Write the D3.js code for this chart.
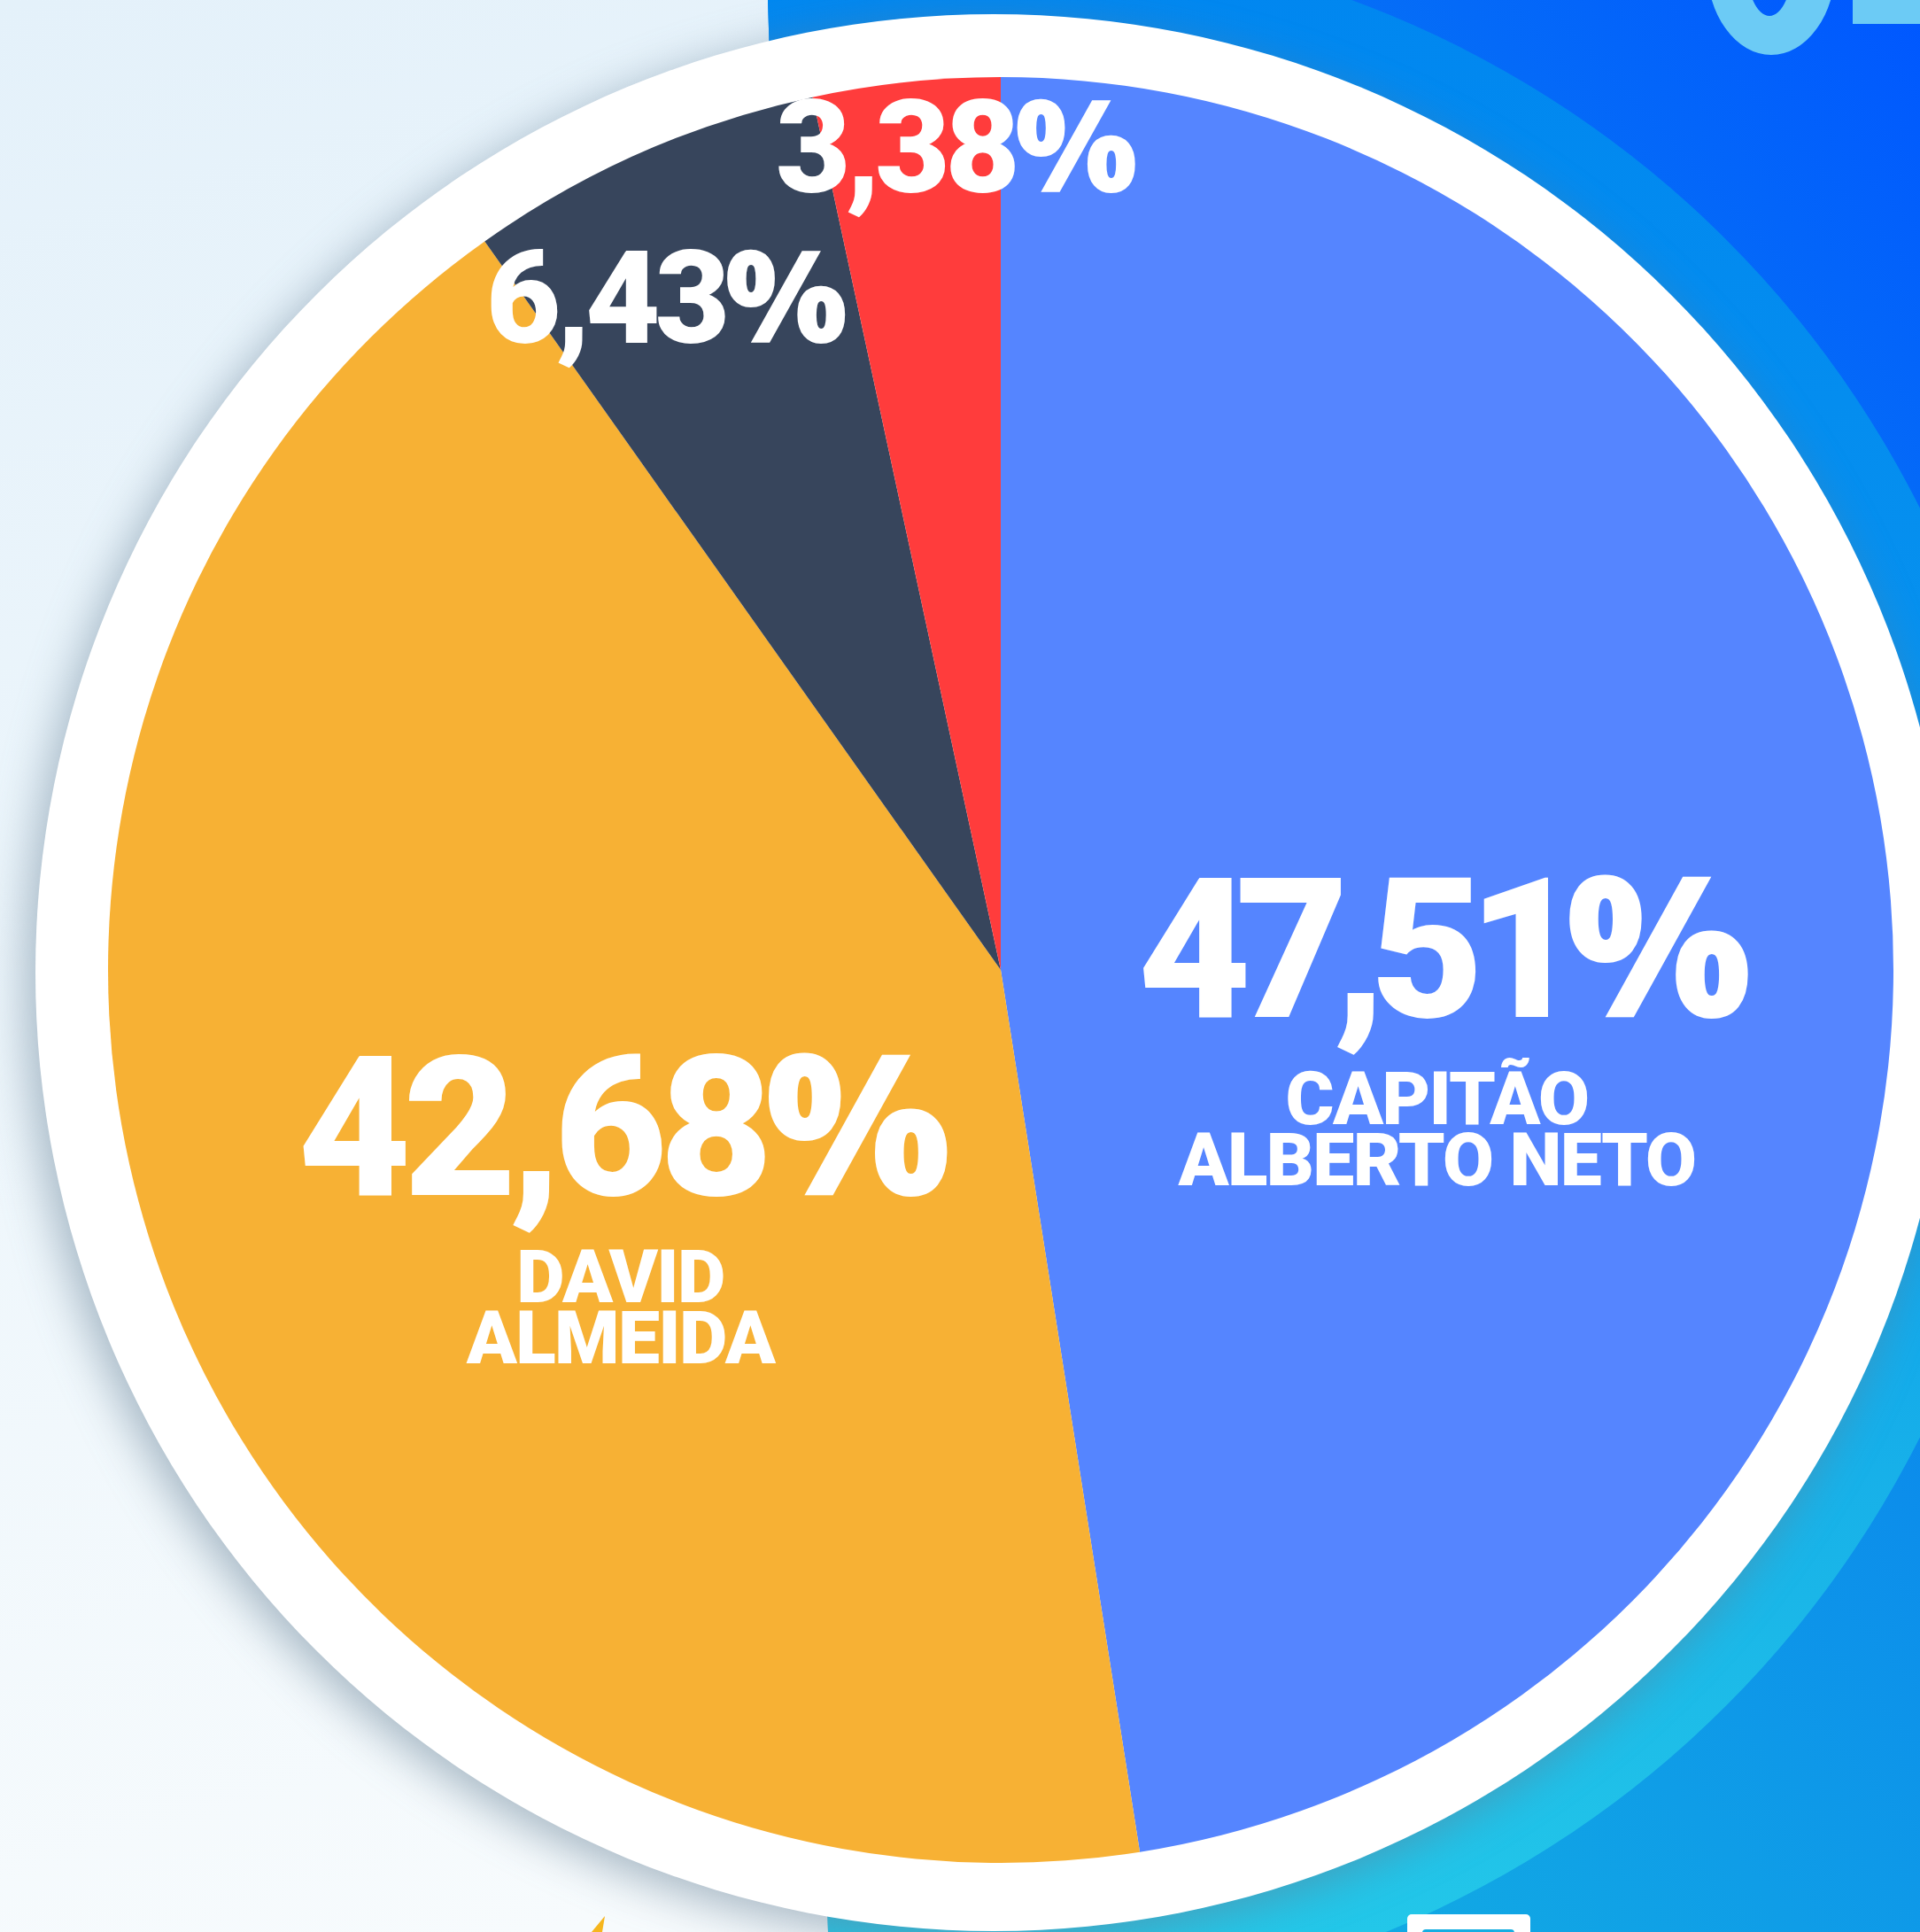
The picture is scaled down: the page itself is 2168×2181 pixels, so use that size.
<!DOCTYPE html>
<html>
<head>
<meta charset="utf-8">
<script src="https://cdn.jsdelivr.net/npm/d3@7"></script>
<style>
  html, body { margin: 0; padding: 0; background: #f4f9fc; }
  svg { display: block; }
</style>
</head>
<body>
<div id="chart"></div>
<script>
// ---- data ----
const shares = [47.51, 42.68, 6.43, 3.38];
const nameLines = [["CAPITÃO", "ALBERTO NETO"], ["DAVID", "ALMEIDA"], [], []];
const sliceColors = ["#5585ff", "#f7b134", "#37455c", "#ff3c3c"];

// ---- layout ----
const W = 2168, H = 2181;
const cx = 1130, cy = 1095, R = 1008;            // pie
const ringCx = 1122, ringCy = 1098, ringR = 1082; // white disc
const bandR = 1170;                               // light band behind the disc

// where each label sits: radius factor + small nudge (px)
const labelLayout = [
  { k: 0.49, dx: 0, dy: 13, size: 221, ls: -0.08, nameSize: 84 },
  { k: 0.46, dx: 0, dy: 1, size: 221, ls: -0.04, nameSize: 84 },
  { k: 0.843, dx: -38, dy: 18, size: 146, ls: -0.04 },
  { k: 0.924, dx: 46, dy: -4, size: 146, ls: -0.04 }
];

const pt = d3.formatLocale({ decimal: ",", thousands: ".", grouping: [3], currency: ["", ""] });
const fmt = v => pt.format(".2f")(v);

const svg = d3.select("#chart").append("svg")
  .attr("width", W).attr("height", H)
  .attr("viewBox", `0 0 ${W} ${H}`);

const defs = svg.append("defs");

// light backdrop
const gLight = defs.append("linearGradient").attr("id", "gLight")
  .attr("x1", 0).attr("y1", 0).attr("x2", 0.3).attr("y2", 1);
gLight.append("stop").attr("offset", 0).attr("stop-color", "#e4f1fa");
gLight.append("stop").attr("offset", 1).attr("stop-color", "#f7fbfd");

// blue panel
const gPanel = defs.append("linearGradient").attr("id", "gPanel")
  .attr("x1", 1).attr("y1", 0).attr("x2", 0.35).attr("y2", 1);
gPanel.append("stop").attr("offset", 0).attr("stop-color", "#0057ff");
gPanel.append("stop").attr("offset", 0.5).attr("stop-color", "#0b8aec");
gPanel.append("stop").attr("offset", 1).attr("stop-color", "#13b0e2");

// band around the disc
const gBand = defs.append("linearGradient").attr("id", "gBand")
  .attr("x1", 0).attr("y1", 0).attr("x2", 0).attr("y2", 1);
gBand.append("stop").attr("offset", 0).attr("stop-color", "#0086f0");
gBand.append("stop").attr("offset", 0.45).attr("stop-color", "#0894ee");
gBand.append("stop").attr("offset", 0.8).attr("stop-color", "#1ab6e8");
gBand.append("stop").attr("offset", 1).attr("stop-color", "#25cbe9");

const panelPts = [[867, 0], [W, 0], [W, H], [935, H]];
defs.append("clipPath").attr("id", "panelClip")
  .append("polygon").attr("points", panelPts.join(" "));

const blur = defs.append("filter").attr("id", "shadow")
  .attr("x", -0.2).attr("y", -0.2).attr("width", 1.4).attr("height", 1.4);
blur.append("feGaussianBlur").attr("stdDeviation", 26);

// =========================
// BACKGROUND
// =========================
svg.append("rect").attr("width", W).attr("height", H).attr("fill", "url(#gLight)");

svg.append("polygon").attr("points", panelPts.join(" ")).attr("fill", "url(#gPanel)");

svg.append("circle")
  .attr("clip-path", "url(#panelClip)")
  .attr("cx", ringCx).attr("cy", ringCy).attr("r", bandR)
  .attr("fill", "url(#gBand)");

// top-right headline fragments
svg.append("path")
  .attr("fill", "#6ccbf5").attr("fill-rule", "evenodd")
  .attr("d", "M1927,-40 a73,102 0 1,0 146,0 a73,102 0 1,0 -146,0 Z M1972,-40 a26,58 0 1,0 52,0 a26,58 0 1,0 -52,0 Z");
svg.append("rect").attr("x", 2092).attr("y", 0).attr("width", 76).attr("height", 27).attr("fill", "#6ccbf5");

// bottom fragments
svg.append("rect").attr("x", 1589).attr("y", 2161).attr("width", 139).attr("height", 40)
  .attr("rx", 5).attr("fill", "#ffffff");
svg.append("rect").attr("x", 1606).attr("y", 2178).attr("width", 104).attr("height", 20)
  .attr("rx", 4).attr("fill", "#14aee2");
svg.append("polygon").attr("points", "683,2163 668,2181 680,2181").attr("fill", "#f6b61e");

// =========================
// DISC + SHADOW
// =========================
svg.append("circle")
  .attr("cx", ringCx - 10).attr("cy", ringCy + 12).attr("r", ringR)
  .attr("fill", "#647f94").attr("opacity", 0.55)
  .attr("filter", "url(#shadow)");

svg.append("circle")
  .attr("cx", ringCx).attr("cy", ringCy).attr("r", ringR)
  .attr("fill", "#ffffff");

// =========================
// PIE
// =========================
const pie = d3.pie().sort(null).value(d => d);
const arcs = pie(shares);
const arc = d3.arc().innerRadius(0).outerRadius(R);

const g = svg.append("g").attr("transform", `translate(${cx},${cy})`);

g.selectAll("path.slice")
  .data(arcs)
  .join("path")
  .attr("class", "slice")
  .attr("d", arc)
  .attr("fill", (d, i) => sliceColors[i]);

// =========================
// LABELS (one text per slice)
// =========================
const font = "Roboto, Inter, 'Open Sans', sans-serif";

arcs.forEach((d, i) => {
  const L = labelLayout[i];
  const labelArc = d3.arc().innerRadius(R * L.k).outerRadius(R * L.k);
  const [lx, ly] = labelArc.centroid(d);
  const x = lx + L.dx;
  const base = ly + L.dy + L.size * 0.356;

  const t = g.append("text")
    .attr("text-anchor", "middle")
    .style("font-family", font)
    .style("font-weight", 900)
    .attr("fill", "#ffffff");

  const pct = t.append("tspan")
    .attr("x", x).attr("y", base)
    .style("font-size", L.size + "px")
    .style("letter-spacing", L.ls + "em")
    .text(fmt(d.data));
  pct.append("tspan")
    .style("font-family", "'Open Sans', sans-serif")
    .style("font-weight", 800)
    .text("%");

  nameLines[i].forEach((line, j) => {
    t.append("tspan")
      .attr("x", x).attr("y", base + 121 + j * 69)
      .style("font-size", L.nameSize + "px")
      .style("letter-spacing", "-0.02em")
      .text(line);
  });
});
</script>
</body>
</html>
